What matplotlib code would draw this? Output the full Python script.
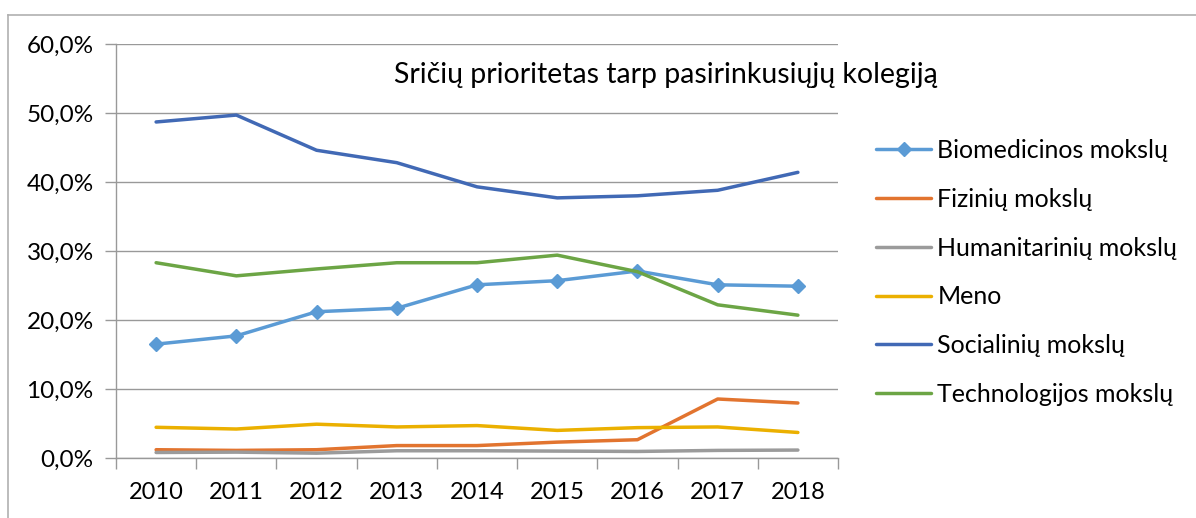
import numpy as np
import matplotlib
matplotlib.use('Agg')
import matplotlib.pyplot as plt
from matplotlib.lines import Line2D
from matplotlib.ticker import FuncFormatter

plt.rcParams['font.family'] = ['Lato', 'DejaVu Sans']

# Duomenys (procentai)
metai = ['2010', '2011', '2012', '2013', '2014', '2015', '2016', '2017', '2018']
biomedicinos = [16.5, 17.7, 21.2, 21.7, 25.1, 25.7, 27.1, 25.1, 24.9]
fiziniu = [1.2, 1.1, 1.2, 1.8, 1.8, 2.3, 2.65, 8.55, 7.97]
humanitariniu = [0.8, 0.85, 0.7, 1.05, 1.05, 1.0, 0.95, 1.1, 1.15]
meno = [4.45, 4.2, 4.9, 4.5, 4.7, 4.0, 4.4, 4.5, 3.7]
socialiniu = [48.7, 49.7, 44.6, 42.8, 39.3, 37.7, 38.0, 38.8, 41.4]
technologijos = [28.3, 26.4, 27.4, 28.3, 28.3, 29.4, 27.0, 22.2, 20.7]

serijos = [
    ('Biomedicinos mokslų', biomedicinos, '#5B9BD5', 'D'),
    ('Fizinių mokslų', fiziniu, '#E2742F', None),
    ('Humanitarinių mokslų', humanitariniu, '#9B9B9B', None),
    ('Meno', meno, '#EBB000', None),
    ('Socialinių mokslų', socialiniu, '#4169B5', None),
    ('Technologijos mokslų', technologijos, '#6CA545', None),
]

fig = plt.figure(figsize=(11.96, 5.18), dpi=100)
ax = fig.add_axes([116 / 1196, 1 - 458 / 518, (838 - 116) / 1196, (458 - 44) / 518])

x = np.arange(len(metai))
for pav, y, spalva, zym in serijos:
    ax.plot(x, y, color=spalva, lw=2.5, marker=zym, markersize=7, label=pav,
            solid_capstyle='round', solid_joinstyle='round')

ax.set_xlim(-0.5, len(metai) - 0.5)
ax.set_ylim(0, 60)
ax.set_yticks(np.arange(0, 61, 10))
ax.yaxis.set_major_formatter(FuncFormatter(lambda v, p: f'{v:.1f}%'.replace('.', ',')))
ax.set_xticks(x)
ax.set_xticklabels(metai)
ax.set_xticks(np.arange(-0.5, len(metai), 1), minor=True)
ax.tick_params(axis='x', which='major', length=0, pad=17, labelsize=17)
ax.tick_params(axis='x', which='minor', length=8, color='#999999', width=1)
ax.tick_params(axis='y', length=8, color='#999999', width=1, pad=8, labelsize=17.5)

ax.grid(axis='y', color='#999999', lw=1)
ax.set_axisbelow(True)
for s in ['top', 'right']:
    ax.spines[s].set_visible(False)
for s in ['left', 'bottom']:
    ax.spines[s].set_color('#999999')
    ax.spines[s].set_linewidth(1)

fig.text(666 / 1196, 1 - 75 / 518, 'Sričių prioritetas tarp pasirinkusiųjų kolegiją',
         ha='center', va='center', fontsize=20.5)

fig.legend(loc='upper left', bbox_to_anchor=(876 / 1196, 1 - 139 / 518), frameon=False,
           fontsize=18, handlelength=2.2, handletextpad=0.25, labelspacing=1.03,
           borderaxespad=0, borderpad=0)

# Remelis
fig.add_artist(Line2D([7.5 / 1196, 1], [1 - 15 / 518, 1 - 15 / 518], color='#b0b0b0', lw=1.2,
                      transform=fig.transFigure))
fig.add_artist(Line2D([7.5 / 1196, 7.5 / 1196], [0, 1 - 15 / 518], color='#b0b0b0', lw=1.2,
                      transform=fig.transFigure))

fig.savefig('out.png', dpi=100)
